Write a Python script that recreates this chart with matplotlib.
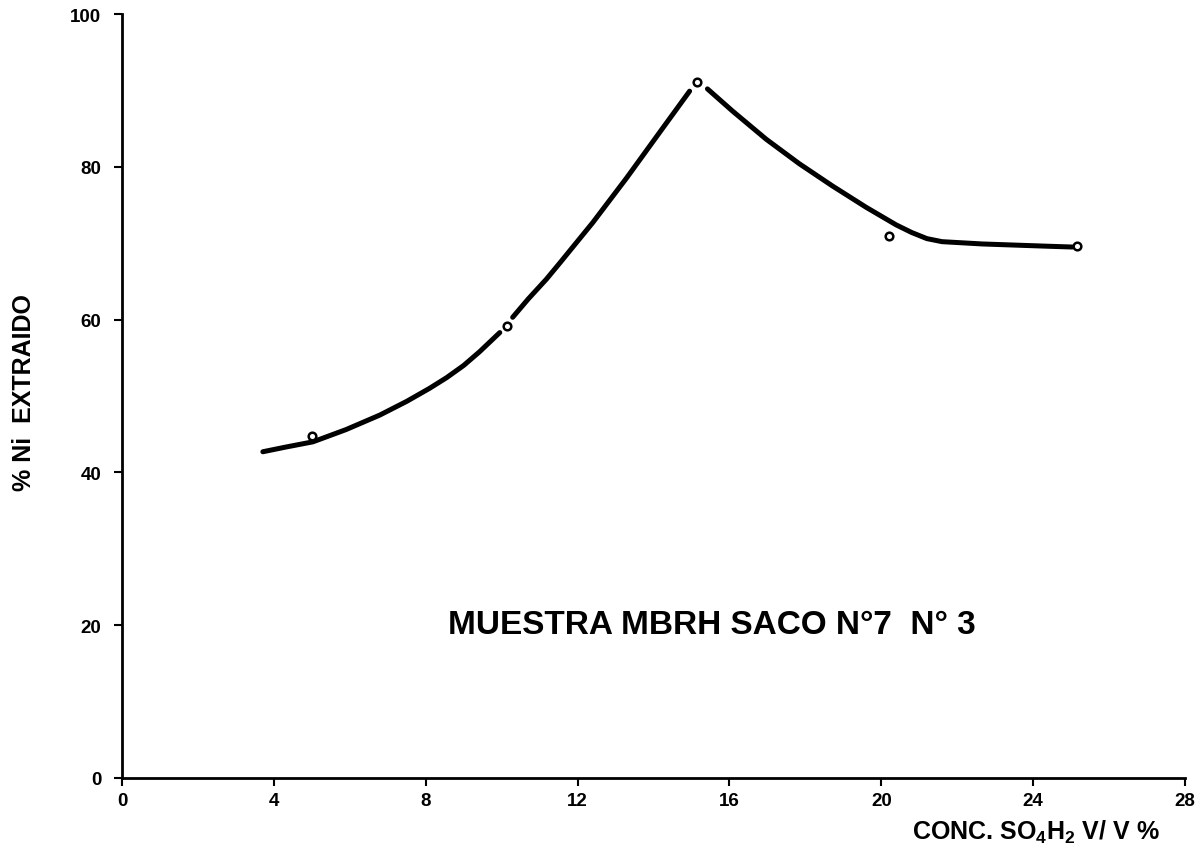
import numpy as np
import matplotlib
matplotlib.use("Agg")
import matplotlib.pyplot as plt

plt.rcParams['font.family'] = ['Liberation Sans', 'DejaVu Sans']
plt.rcParams['font.weight'] = 'bold'
plt.rcParams['mathtext.fontset'] = 'custom'
plt.rcParams['mathtext.rm'] = 'Liberation Sans:bold'
plt.rcParams['mathtext.bf'] = 'Liberation Sans:bold'
plt.rcParams['mathtext.default'] = 'bf'

# measured points (open circles)
points_x = [5.0, 10.15, 15.15, 20.2, 25.15]
points_y = [44.8, 59.2, 91.1, 70.9, 69.6]

# hand-drawn curve; NaN marks the breaks at the circles
curve_x = [3.71, 4.3, 5.03, 5.9, 6.79, 7.5, 8.1, 8.55, 9.0, 9.42, 9.95, np.nan,
           10.29, 10.7, 11.18, 11.53, 12.4, 13.3, 14.16, 14.95, np.nan,
           15.42, 16.08, 16.97, 17.84, 18.71, 19.6, 20.39, 20.8, 21.2, 21.6,
           22.66, 24.4, 25.03]
curve_y = [42.7, 43.3, 44.0, 45.6, 47.5, 49.3, 51.0, 52.4, 54.0, 55.8, 58.3, np.nan,
           60.3, 62.7, 65.3, 67.4, 72.7, 78.6, 84.5, 89.9, np.nan,
           90.2, 87.3, 83.6, 80.4, 77.5, 74.7, 72.4, 71.4, 70.6, 70.2,
           69.9, 69.6, 69.5]

x_ticks = [0, 4, 8, 12, 16, 20, 24, 28]
y_ticks = [0, 20, 40, 60, 80, 100]

fig = plt.figure(figsize=(12.02, 8.53), dpi=100)
ax = fig.add_axes([0.1015, 0.0868, 0.8844, 0.8956])

ax.plot(curve_x, curve_y, color='black', lw=3.6,
        solid_capstyle='round', solid_joinstyle='round')
ax.plot(points_x, points_y, 'o', mfc='white', mec='black',
        ms=5.5, mew=1.8, zorder=3)

ax.set_xlim(0, 28)
ax.set_ylim(0, 100)
ax.set_xticks(x_ticks)
ax.set_yticks(y_ticks)
ax.spines['top'].set_visible(False)
ax.spines['right'].set_visible(False)
for s in ('left', 'bottom'):
    ax.spines[s].set_linewidth(2.0)
ax.tick_params(axis='both', direction='out', length=6, width=1.5,
               labelsize=13.5)
ax.tick_params(axis='y', pad=9)
ax.tick_params(axis='x', pad=4)

ax.text(0.976, -0.07, r'CONC. SO$_4$H$_2$ V/ V %', transform=ax.transAxes,
        ha='right', va='center', fontsize=18, fontweight='bold')
fig.text(0.02, 0.54, '% Ni  EXTRAIDO', rotation=90, ha='center',
         va='center', fontsize=18, fontweight='bold')
ax.text(15.55, 20.1, 'MUESTRA MBRH SACO N°7  N° 3', ha='center',
        va='center', fontsize=24, fontweight='bold')

fig.savefig('out.png', dpi=100)
